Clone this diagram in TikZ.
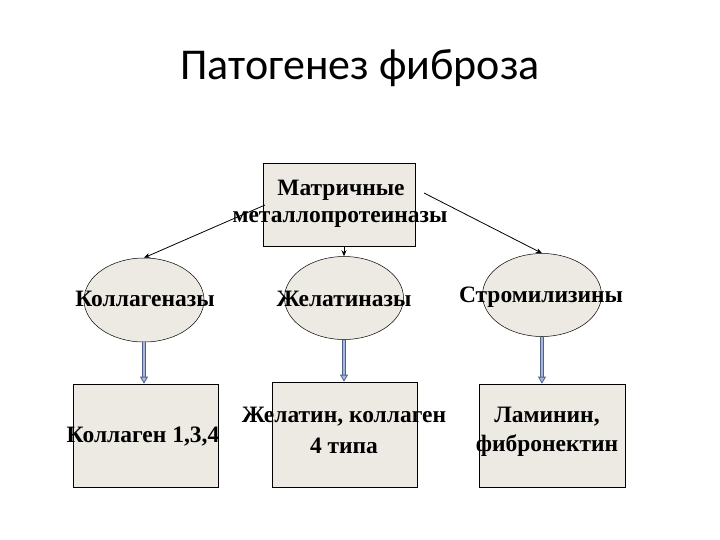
\documentclass[tikz,border=0pt]{standalone}
\usepackage{fontspec}
\setmainfont{Liberation Serif}
\newfontfamily\titlefont{Carlito}
\usetikzlibrary{arrows.meta,shapes.geometric}
\definecolor{boxfill}{HTML}{ECEAE2}
\definecolor{bluearr}{HTML}{4F6190}
\definecolor{bluein}{HTML}{A9B6D6}
\begin{document}
\begin{tikzpicture}[x=1pt,y=-1pt,
  boxshape/.style={draw=black,line width=0.6pt,fill=boxfill},
  ell/.style={draw=black,line width=0.5pt,fill=boxfill},
  lbl/.style={font=\bfseries\fontsize{23.5}{26}\selectfont,inner sep=0pt,align=center},
  thinarr/.style={-{Stealth[length=6pt,width=5pt]},line width=0.8pt},
  bluearrow/.style={double=bluein,draw=bluearr,double distance=2pt,line width=0.8pt,-{Triangle[length=7pt,width=8pt,fill=bluein]}}]
\useasboundingbox (0,0) rectangle (720,540);
\fill[white] (0,0) rectangle (720,540);
\node[font=\titlefont\fontsize{44}{48}\selectfont] (title) at (360,68) {Патогенез фиброза};
\draw[boxshape] (263,163) rectangle (415,246);
\coordinate (topL) at (265,205);
\coordinate (topR) at (424,193);
\coordinate (topB) at (344,246);
\node[ell,ellipse,minimum width=120pt,minimum height=84pt,inner sep=0pt] (e1) at (144,300) {};
\node[ell,ellipse,minimum width=119pt,minimum height=83pt,inner sep=0pt] (e2) at (344,298) {};
\node[ell,ellipse,minimum width=119pt,minimum height=83pt,inner sep=0pt] (e3) at (542,295) {};
\node[boxshape,minimum width=145pt,minimum height=103pt,inner sep=0pt] (b1) at (145.5,435.5) {};
\node[boxshape,minimum width=145pt,minimum height=105pt,inner sep=0pt] (b2) at (344.5,434.5) {};
\node[boxshape,minimum width=146pt,minimum height=103pt,inner sep=0pt] (b3) at (552,435.5) {};
\node[lbl] (t1) at (341,190) {Матричные};
\node[lbl] (t2) at (340,219) {металлопротеиназы};
\node[lbl] (l1) at (145,299) {Коллагеназы};
\node[lbl] (l2) at (344,299) {Желатиназы};
\node[lbl] (l3) at (541,297) {Стромилизины};
\node[lbl] (c1) at (143,437) {Коллаген 1,3,4};
\node[lbl] (c2) at (344,417) {Желатин, коллаген};
\node[lbl] (c2b) at (344,446) {4 типа};
\node[lbl] (c3) at (547,417) {Ламинин,};
\node[lbl] (c3b) at (547,446) {фибронектин};
\draw[thinarr] (topL) -- (e1.north);
\draw[thinarr] (topB) -- (e2.north);
\draw[thinarr] (topR) -- (e3.north);
\draw[bluearrow] (e1.south) -- (b1.north -| e1.south);
\draw[bluearrow] (e2.south) -- (b2.north -| e2.south);
\draw[bluearrow] (e3.south) -- (b3.north -| e3.south);
\end{tikzpicture}
\end{document}
